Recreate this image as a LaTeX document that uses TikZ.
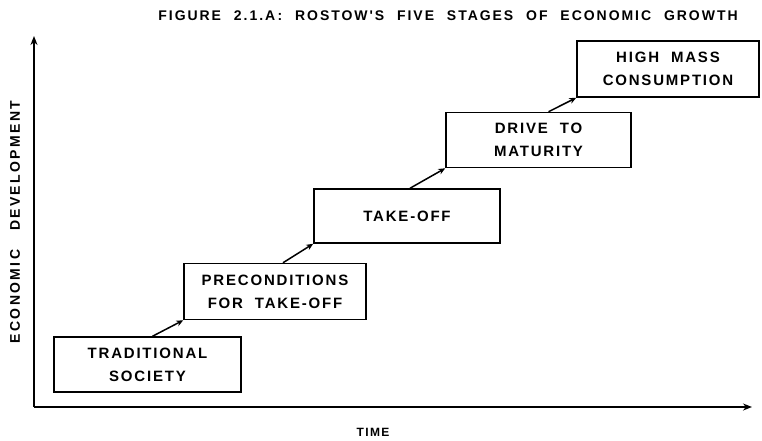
\documentclass[tikz,border=0pt]{standalone}
\usepackage{fontspec}
\setmainfont{Liberation Sans}[LetterSpace=12]
\newfontfamily\titlefont{Liberation Sans}[LetterSpace=14,WordSpace=2.2]
\newfontfamily\boxfont{Liberation Sans}[LetterSpace=12,WordSpace=2]
\newfontfamily\ylabfont{Liberation Sans}[LetterSpace=17,WordSpace=3]
\usetikzlibrary{arrows.meta}
\begin{document}
\begin{tikzpicture}[x=1pt,y=-1pt,
  stage/.style={draw,line width=1.5pt,font=\boxfont\bfseries\fontsize{15}{23}\selectfont,align=center,inner sep=0pt},
  link/.style={line width=1.5pt,-{Stealth[length=7pt,width=6pt]}},
  axis/.style={line width=1.5pt,-{Stealth[length=9pt,width=7pt]}}]
\useasboundingbox (0,0) rectangle (762,440);
\node[font=\titlefont\bfseries\fontsize{14}{16}\selectfont] (title) at (448,16) {FIGURE 2.1.A\,: ROSTOW'S FIVE STAGES OF ECONOMIC GROWTH};
\coordinate (O) at (34,407);
\coordinate (ytop) at (34,36);
\coordinate (xend) at (752,407);
\draw[axis] (O) -- (ytop);
\draw[axis] (O) -- (xend);
\node[font=\bfseries\fontsize{12}{13}\selectfont] (time) at (373,432) {TIME};
\node[font=\ylabfont\bfseries\fontsize{14}{16}\selectfont,rotate=90] (ylab) at (15,222) {ECONOMIC DEVELOPMENT};
\node[stage,minimum width=187pt,minimum height=55pt] (s1) at (147.5,364.5) {TRADITIONAL\\SOCIETY};
\node[stage,minimum width=182pt,minimum height=56pt] (s2) at (275,291.5) {PRECONDITIONS\\FOR TAKE-OFF};
\node[stage,minimum width=186pt,minimum height=54pt] (s3) at (407,216) {TAKE-OFF};
\node[stage,minimum width=185pt,minimum height=55pt] (s4) at (538.5,140) {DRIVE TO\\MATURITY};
\node[stage,minimum width=182pt,minimum height=56pt] (s5) at (668,69) {HIGH MASS\\CONSUMPTION};
\draw[link] ([xshift=5pt]s1.north) -- (s2.south west);
\draw[link] ([xshift=8pt]s2.north) -- (s3.south west);
\draw[link] ([xshift=3pt]s3.north) -- (s4.south west);
\draw[link] ([xshift=10pt]s4.north) -- (s5.south west);
\end{tikzpicture}
\end{document}
